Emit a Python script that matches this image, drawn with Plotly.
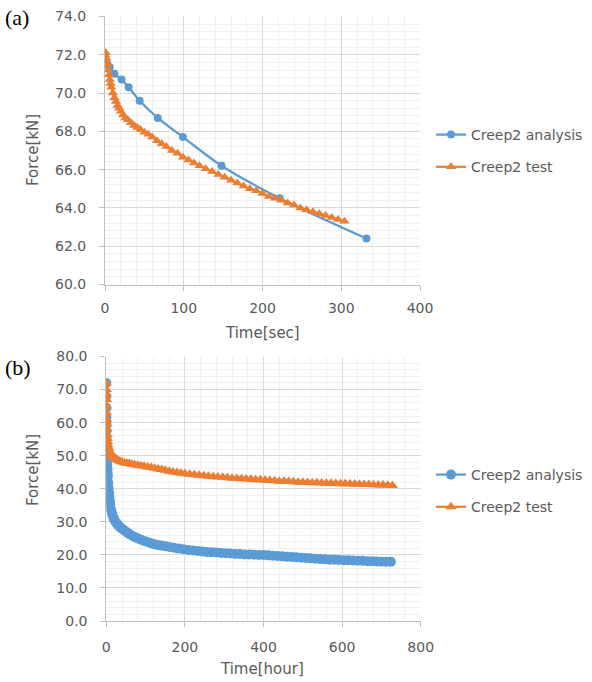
import plotly.graph_objects as go

# ---------------- (a) short-term data (seconds) ----------------
a_analysis_t = [0, 3, 6, 12, 21, 30, 44, 67, 99, 148, 222, 332]
a_analysis_f = [71.6, 71.5, 71.35, 71.0, 70.7, 70.3, 69.6, 68.7, 67.7, 66.2, 64.5, 62.4]

a_test_t = [0, 1, 2, 3, 4, 5, 6, 7, 8, 10, 12, 14, 16, 18, 20, 23, 26, 29, 33, 37, 41, 45,
            50, 55, 60, 66, 72, 78, 85, 92, 99, 106, 113, 120, 128, 136, 144, 152, 160, 168,
            176, 184, 192, 200, 208, 216, 224, 232, 240, 248, 256, 264, 272, 280, 288, 296, 304]
a_test_f = [72.0, 72.1, 71.8, 71.5, 71.2, 70.95, 70.7, 70.5, 70.3, 70.0, 69.75, 69.55, 69.35,
            69.2, 69.05, 68.85, 68.7, 68.6, 68.45, 68.3, 68.2, 68.1, 67.95, 67.85, 67.7, 67.5,
            67.35, 67.2, 67.0, 66.85, 66.65, 66.5, 66.35, 66.2, 66.05, 65.9, 65.75, 65.6, 65.45,
            65.3, 65.15, 65.0, 64.9, 64.75, 64.6, 64.5, 64.4, 64.25, 64.15, 64.0, 63.9, 63.8,
            63.7, 63.6, 63.5, 63.4, 63.3]

# ---------------- (b) long-term data (hours) ----------------
b_analysis_t = [0, 0.05, 0.1, 0.2, 0.3, 0.5, 0.7, 1, 1.3, 1.6, 2, 2.5, 3, 3.5, 4, 5, 6, 7, 8, 9,
                10, 12, 14, 16, 18, 20, 23, 26, 30, 34, 38, 43, 48, 54, 60, 67, 74, 82, 90, 98,
                106, 114, 122, 130, 140, 150, 160, 172, 184, 196, 208, 220, 232, 244, 256, 268,
                280, 292, 304, 316, 328, 340, 352, 364, 376, 388, 400, 412, 424, 436, 448, 460,
                472, 484, 496, 508, 520, 532, 544, 556, 568, 580, 592, 604, 616, 628, 640, 652,
                664, 676, 688, 700, 712, 724]
b_analysis_f = [72.0, 68.0, 64.5, 61.5, 59.5, 57.5, 55.5, 53.5, 51.8, 50.3, 48.8, 47.3, 46.0,
                44.8, 43.7, 41.8, 40.2, 38.8, 37.5, 36.3, 35.3, 33.8, 32.8, 32.0, 31.3, 30.7,
                30.1, 29.6, 29.0, 28.5, 28.1, 27.7, 27.2, 26.7, 26.2, 25.7, 25.3, 24.9, 24.5,
                24.1, 23.8, 23.5, 23.25, 23.0, 22.8, 22.6, 22.4, 22.15, 21.9, 21.7, 21.5, 21.35,
                21.2, 21.05, 20.9, 20.8, 20.7, 20.6, 20.5, 20.4, 20.3, 20.25, 20.15, 20.1, 20.05,
                20.0, 19.95, 19.85, 19.75, 19.65, 19.55, 19.45, 19.35, 19.25, 19.15, 19.05, 18.95,
                18.85, 18.75, 18.65, 18.55, 18.5, 18.45, 18.4, 18.35, 18.3, 18.25, 18.2, 18.1,
                18.05, 18.0, 17.95, 17.9, 17.9]

b_test_t = [0, 0.1, 0.2, 0.3, 0.5, 0.7, 1, 1.3, 1.6, 2, 2.5, 3, 4, 5, 6, 8, 10, 12, 15, 18, 22,
            26, 30, 35, 40, 46, 52, 58, 65, 72, 80, 88, 96, 105, 114, 123, 132, 141, 150, 160,
            170, 180, 190, 200, 212, 224, 236, 248, 260, 272, 284, 296, 308, 320, 332, 344, 356,
            368, 380, 392, 404, 416, 428, 440, 452, 464, 476, 488, 500, 512, 524, 536, 548, 560,
            572, 584, 596, 608, 620, 632, 644, 656, 668, 680, 692, 704, 716, 728]
b_test_f = [72.0, 70.0, 68.5, 67.0, 65.0, 63.0, 61.0, 59.5, 58.0, 56.5, 55.2, 54.2, 53.2, 52.5,
            52.0, 51.3, 50.8, 50.4, 49.8, 49.5, 49.2, 48.9, 48.6, 48.3, 48.1, 47.9, 47.75, 47.6,
            47.4, 47.25, 47.1, 46.95, 46.8, 46.6, 46.4, 46.2, 46.0, 45.8, 45.6, 45.3, 45.1, 44.9,
            44.7, 44.5, 44.35, 44.2, 44.05, 43.9, 43.8, 43.65, 43.55, 43.45, 43.3, 43.2, 43.1,
            43.0, 42.95, 42.85, 42.75, 42.7, 42.6, 42.5, 42.4, 42.3, 42.25, 42.2, 42.1, 42.0,
            41.95, 41.9, 41.85, 41.8, 41.75, 41.7, 41.65, 41.6, 41.55, 41.5, 41.45, 41.4, 41.35,
            41.3, 41.25, 41.2, 41.15, 41.1, 41.05, 41.0]

series_names = ["Creep2 analysis", "Creep2 test"]
BLUE = "#5B9BD5"
ORANGE = "#ED7D31"
TXT = "#595959"
FONT = "DejaVu Sans"

fig = go.Figure()

fig.add_trace(go.Scatter(x=a_analysis_t, y=a_analysis_f, name=series_names[0],
                         mode="lines+markers", line=dict(color=BLUE, width=2.25, shape="spline"),
                         marker=dict(symbol="circle", size=8, color=BLUE),
                         xaxis="x", yaxis="y", legend="legend", legendgroup="a1"))
fig.add_trace(go.Scatter(x=a_test_t, y=a_test_f, name=series_names[1],
                         mode="lines+markers", line=dict(color=ORANGE, width=2.25),
                         marker=dict(symbol="triangle-up", size=9, color=ORANGE),
                         xaxis="x", yaxis="y", legend="legend", legendgroup="a2"))
fig.add_trace(go.Scatter(x=b_analysis_t, y=b_analysis_f, name=series_names[0],
                         mode="lines+markers", line=dict(color=BLUE, width=2.25),
                         marker=dict(symbol="circle", size=10, color=BLUE),
                         xaxis="x2", yaxis="y2", legend="legend2", legendgroup="b1"))
fig.add_trace(go.Scatter(x=b_test_t, y=b_test_f, name=series_names[1],
                         mode="lines+markers", line=dict(color=ORANGE, width=2.25),
                         marker=dict(symbol="triangle-up", size=10, color=ORANGE),
                         xaxis="x2", yaxis="y2", legend="legend2", legendgroup="b2"))

W, H = 592, 682
def px_x(p):
    return p / W
def px_y(p):
    return 1 - p / H

axis_common = dict(showline=True, linecolor="#BFBFBF", linewidth=1, ticks="outside",
                   tickcolor="#BFBFBF", ticklen=5, gridcolor="#D9D9D9", gridwidth=1,
                   zeroline=False, tickfont=dict(family=FONT, size=14, color=TXT),
                   fixedrange=True, automargin=False)

fig.update_layout(
    width=W, height=H,
    margin=dict(l=0, r=0, t=0, b=0, pad=0, autoexpand=False),
    paper_bgcolor="white", plot_bgcolor="white",
    showlegend=True,
    xaxis=dict(domain=[px_x(105), px_x(420)], range=[0, 400], dtick=100, anchor="y",
               ticklabelstandoff=6,
               minor=dict(dtick=20, showgrid=True, gridcolor="#F0F0F0"), **axis_common),
    yaxis=dict(domain=[px_y(284.5), px_y(16.4)], range=[60, 74], dtick=2, tickformat=".1f",
               anchor="x", ticklabelstandoff=10,
               minor=dict(dtick=0.4, showgrid=True, gridcolor="#F0F0F0"), **axis_common),
    xaxis2=dict(domain=[px_x(106.3), px_x(420.7)], range=[0, 800], dtick=200, anchor="y2",
                ticklabelstandoff=8,
                minor=dict(dtick=40, showgrid=True, gridcolor="#F0F0F0"), **axis_common),
    yaxis2=dict(domain=[px_y(621), px_y(356.5)], range=[0, 80], dtick=10, tickformat=".1f",
                anchor="x2", ticklabelstandoff=10,
                minor=dict(dtick=2, showgrid=True, gridcolor="#F0F0F0"), **axis_common),
    legend=dict(x=px_x(431), y=px_y(119), xanchor="left", yanchor="top",
                font=dict(family=FONT, size=14, color=TXT), bgcolor="rgba(0,0,0,0)",
                tracegroupgap=11, itemwidth=30),
    legend2=dict(x=px_x(431), y=px_y(459), xanchor="left", yanchor="top",
                 font=dict(family=FONT, size=14, color=TXT), bgcolor="rgba(0,0,0,0)",
                 tracegroupgap=11, itemwidth=30),
    annotations=[
        dict(text="(a)", x=px_x(3), y=px_y(18), xref="paper", yref="paper", showarrow=False,
             xanchor="left", yanchor="middle",
             font=dict(family="Liberation Serif", size=22, color="black")),
        dict(text="(b)", x=px_x(3), y=px_y(367), xref="paper", yref="paper", showarrow=False,
             xanchor="left", yanchor="middle",
             font=dict(family="Liberation Serif", size=22, color="black")),
        dict(text="Force[kN]", x=px_x(33), y=px_y(150), xref="paper", yref="paper",
             showarrow=False, textangle=-90, xanchor="center", yanchor="middle",
             font=dict(family=FONT, size=15, color=TXT)),
        dict(text="Force[kN]", x=px_x(33), y=px_y(470), xref="paper", yref="paper",
             showarrow=False, textangle=-90, xanchor="center", yanchor="middle",
             font=dict(family=FONT, size=15, color=TXT)),
        dict(text="Time[sec]", x=px_x(262), y=px_y(333), xref="paper", yref="paper",
             showarrow=False, xanchor="center", yanchor="middle",
             font=dict(family=FONT, size=15, color=TXT)),
        dict(text="Time[hour]", x=px_x(262), y=px_y(669), xref="paper", yref="paper",
             showarrow=False, xanchor="center", yanchor="middle",
             font=dict(family=FONT, size=15, color=TXT)),
    ],
)

fig.write_html("out.html")
